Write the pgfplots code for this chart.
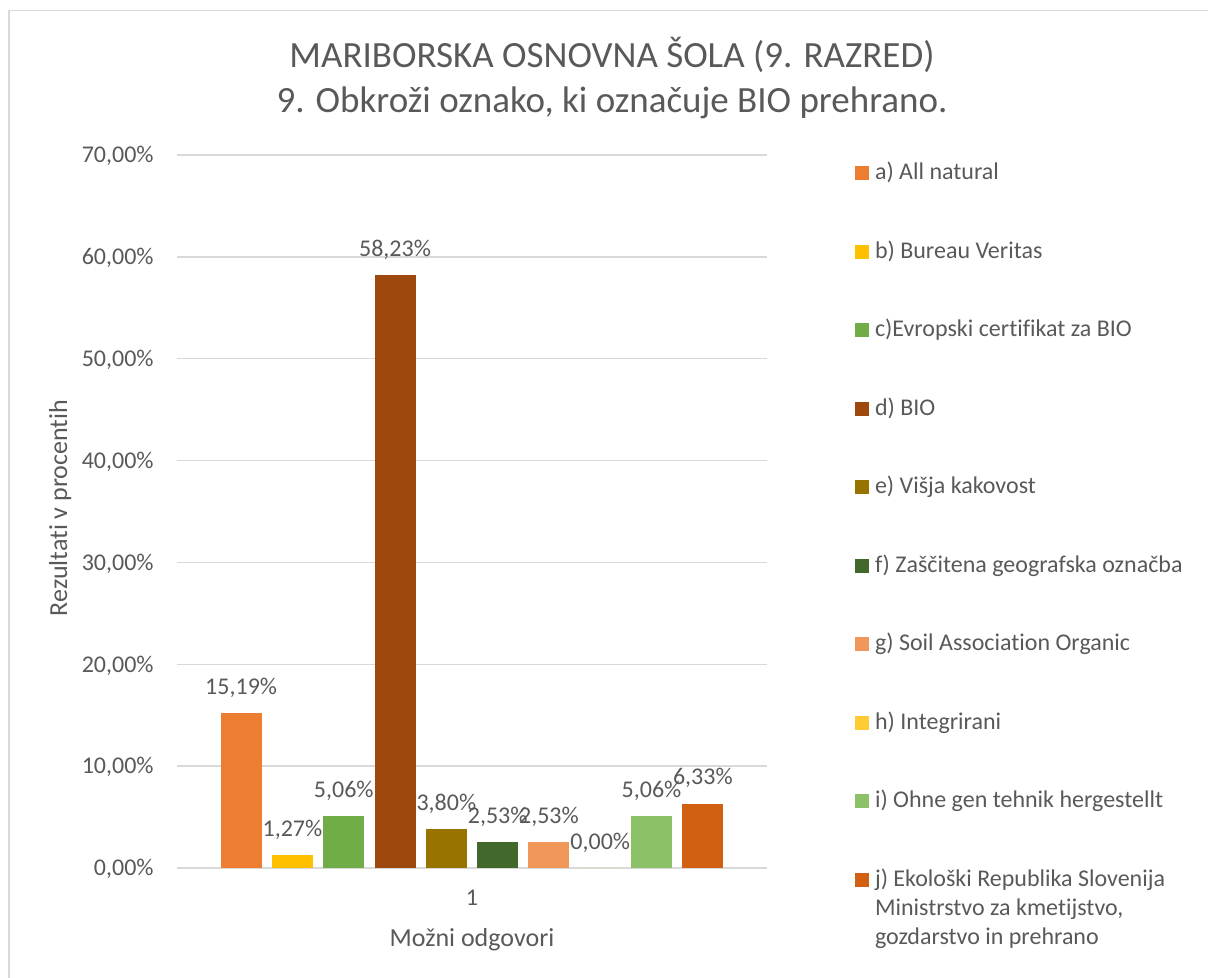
\documentclass[border=0pt]{standalone}
\usepackage{fontspec}
\setmainfont{Carlito}[Ligatures=CommonOff]
\usepackage{pgfplots}
\pgfplotsset{compat=1.18}

\definecolor{txt}{HTML}{595959}
\definecolor{grd}{HTML}{D9D9D9}
\definecolor{ca}{HTML}{ED7D31}
\definecolor{cb}{HTML}{FFC000}
\definecolor{cc}{HTML}{70AD47}
\definecolor{cd}{HTML}{9E480E}
\definecolor{ce}{HTML}{997300}
\definecolor{cf}{HTML}{43682B}
\definecolor{cg}{HTML}{F1975A}
\definecolor{ch}{HTML}{FFCD33}
\definecolor{ci}{HTML}{8CC168}
\definecolor{cj}{HTML}{D26012}

% square legend marker, sitting on the text baseline
\pgfplotsset{lsq/.style={legend image code/.code={\fill[##1] (0pt,-0.2pt) rectangle (7pt,6.8pt);}}}

\begin{document}
\begin{tikzpicture}
\useasboundingbox (-88.5pt,-55pt) rectangle (515.5pt,434pt);
\draw[grd, line width=0.8pt] (-84pt,-60pt) -- (-84pt,428.75pt) -- (520pt,428.75pt);

\begin{axis}[
  width=295pt, height=356.5pt, scale only axis,
  xmin=0.5, xmax=1.5, ymin=0, ymax=70,
  ybar=5.15pt, bar width=20.5pt,
  xtick={1}, ytick={0,10,...,70},
  major tick length=0pt,
  axis line style={draw=none},
  ymajorgrids, grid style={grd, line width=0.75pt},
  /pgf/number format/assume math mode=true,
  tick label style={font=\fontsize{12}{14.5}\selectfont, text=txt, inner sep=0pt},
  yticklabel={\pgfmathprintnumber[fixed,fixed zerofill,precision=2,use comma]{\tick}\%},
  yticklabel style={anchor=base east, xshift=-11.5pt, yshift=-3.9pt},
  xticklabel style={anchor=base, yshift=-19pt},
  xlabel={Možni odgovori},
  ylabel={Rezultati v procentih},
  xlabel style={at={(axis description cs:0.5,-0.1094)}, anchor=base, inner sep=0pt,
    font=\fontsize{13}{15}\selectfont, text=txt},
  ylabel style={at={(axis description cs:-0.1864,0.5049)}, anchor=base, inner sep=0pt,
    font=\fontsize{13}{15}\selectfont, text=txt},
  nodes near coords={\pgfmathprintnumber[fixed,fixed zerofill,precision=2,use comma]{\pgfplotspointmeta}\%},
  every node near coord/.append style={font=\fontsize{12}{14.5}\selectfont, text=txt,
    inner sep=0pt, text depth=0pt, yshift=9.2pt},
  legend style={at={(axis description cs:1.1492,0.9962)}, anchor=north west,
    draw=none, fill=none, inner sep=0pt, outer sep=0pt,
    font=\fontsize{12}{14.5}\selectfont, text=txt,
    row sep=24.75pt, column sep=1pt,
    cells={anchor=base west, inner sep=0pt, text height=9pt, text depth=3pt}},
]
\addplot[fill=ca, draw=none, lsq] coordinates {(1,15.19)};
\addlegendentry{a) All natural}
\addplot[fill=cb, draw=none, lsq] coordinates {(1,1.27)};
\addlegendentry{b) Bureau Veritas}
\addplot[fill=cc, draw=none, lsq] coordinates {(1,5.06)};
\addlegendentry{c)Evropski certifikat za BIO}
\addplot[fill=cd, draw=none, lsq] coordinates {(1,58.23)};
\addlegendentry{d) BIO}
\addplot[fill=ce, draw=none, lsq] coordinates {(1,3.80)};
\addlegendentry{e) Višja kakovost}
\addplot[fill=cf, draw=none, lsq] coordinates {(1,2.53)};
\addlegendentry{f) Zaščitena geografska označba}
\addplot[fill=cg, draw=none, lsq] coordinates {(1,2.53)};
\addlegendentry{g) Soil Association Organic}
\addplot[fill=ch, draw=none, lsq] coordinates {(1,0)};
\addlegendentry{h) Integrirani}
\addplot[fill=ci, draw=none, lsq] coordinates {(1,5.06)};
\addlegendentry{i) Ohne gen tehnik hergestellt}
\addplot[fill=cj, draw=none, lsq] coordinates {(1,6.33)};
\addlegendentry{\begin{tabular}[t]{@{}l@{}}j) Ekološki Republika Slovenija\\Ministrstvo za kmetijstvo,\\gozdarstvo in prehrano\end{tabular}}
\end{axis}

\node[anchor=base, font=\fontsize{18.5}{22}\selectfont, text=txt, inner sep=0pt]
  at (217.5pt,400pt) {MARIBORSKA OSNOVNA ŠOLA (9. RAZRED)};
\node[anchor=base, font=\fontsize{18.5}{22}\selectfont, text=txt, inner sep=0pt]
  at (217.5pt,377.5pt) {9. Obkroži oznako, ki označuje BIO prehrano.};
\end{tikzpicture}
\end{document}
